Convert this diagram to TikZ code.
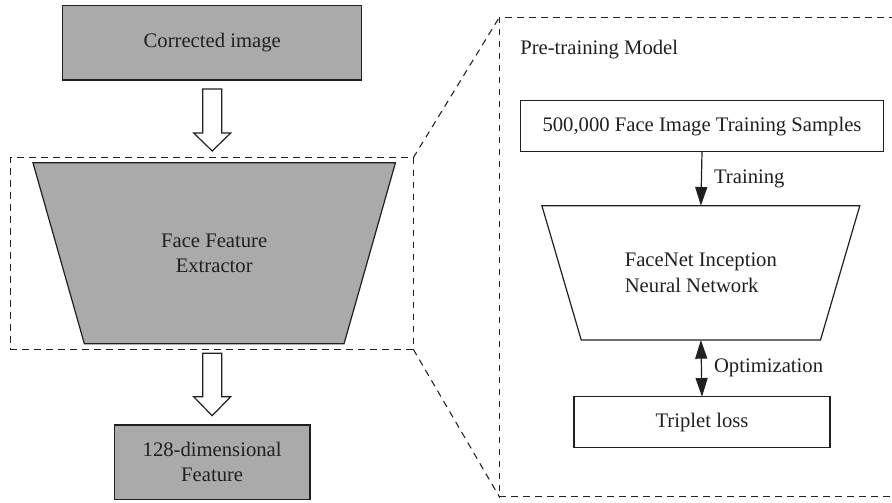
\documentclass[tikz,border=0pt]{standalone}
\usepackage{fontspec}
\setmainfont{Liberation Serif}
\usetikzlibrary{shapes.geometric}
\usetikzlibrary{arrows.meta}
\definecolor{inkgray}{RGB}{35,31,32}
\definecolor{boxgray}{RGB}{170,170,170}
\tikzset{
  lbl/.style={font=\fontsize{15.5}{19}\selectfont, text=inkgray},
  graybox/.style={draw=inkgray, line width=0.9pt, fill=boxgray, inner sep=0pt, outer sep=0pt, lbl, align=center},
  whitebox/.style={draw=inkgray, line width=0.9pt, fill=white, inner sep=0pt, outer sep=0pt, lbl, align=center},
  funnel/.style={trapezium, trapezium stretches=true, shape border rotate=180, inner sep=0pt, outer sep=0pt},
  frame/.style={draw=inkgray, line width=0.8pt, dash pattern=on 5pt off 4pt},
  hollow/.style={draw=inkgray, line width=0.9pt, fill=white},
  thinarrow/.style={draw=inkgray, line width=0.9pt, -{Triangle[length=14pt,width=9pt]}},
  biarrow/.style={draw=inkgray, line width=0.9pt, {Triangle[length=14pt,width=9pt]}-{Triangle[length=14pt,width=9pt]}}
}
\begin{document}
\begin{tikzpicture}[x=0.75pt,y=0.75pt,yscale=-1,xscale=1]
\useasboundingbox (0,0) rectangle (892,503);
% left column
\node [graybox, minimum width=224.25pt, minimum height=55.7pt] (img) at (212.2,42.85) {Corrected image};
\node [frame, inner sep=0pt, outer sep=0pt, minimum width=302.25pt, minimum height=143.7pt] (frameL) at (211.8,253.5) {};
\node [funnel, graybox, trapezium angle=61.73, minimum width=272.25pt, minimum height=135.75pt] (extract) at (214.2,253.2) {Face Feature\\Extractor};
\node [graybox, minimum width=146.8pt, minimum height=55.7pt] (feat) at (212.15,462.15) {128-dimensional\\Feature};
% hollow arrows
\draw [hollow] (img.south) ++(-9.5,9) -- ++(0,44) -- ++(-9,0) -- ++(18.5,18) -- ++(18.5,-18) -- ++(-9,0) -- ++(0,-44) -- cycle ;
\draw [hollow] (feat.north) ++(-9.5,-71.7) -- ++(0,43.4) -- ++(-9,0) -- ++(18.5,19) -- ++(18.5,-19) -- ++(-9,0) -- ++(0,-43.4) -- cycle ;
% right panel
\node [frame, inner sep=0pt, outer sep=0pt, minimum width=315.5pt, minimum height=359.55pt] (frameR) at (709.65,257) {};
\draw [frame] (frameL.north east) -- (frameR.north west) ;
\draw [frame] (frameL.south east) -- (frameR.south west) ;
\node [lbl, anchor=west, inner sep=0pt] (ptm) at (520,49.3) {Pre-training Model};
\node [whitebox, minimum width=271.95pt, minimum height=38.25pt] (samples) at (702,126.2) {500,000 Face Image Training Samples};
\node [funnel, whitebox, align=left, trapezium angle=57.5, minimum width=238.7pt, minimum height=100.7pt] (facenet) at (700.85,272.85) {FaceNet Inception\\Neural Network};
\node [whitebox, minimum width=192pt, minimum height=38.25pt] (triplet) at (702,422.2) {Triplet loss};
\draw [thinarrow] (samples.south) -- (facenet.north) node [midway, lbl, anchor=west, xshift=9pt, inner sep=0pt] (train) {Training};
\draw [biarrow] (facenet.south) -- (triplet.north) node [midway, lbl, anchor=west, xshift=9pt, inner sep=0pt] (optim) {Optimization};
\end{tikzpicture}
\end{document}
